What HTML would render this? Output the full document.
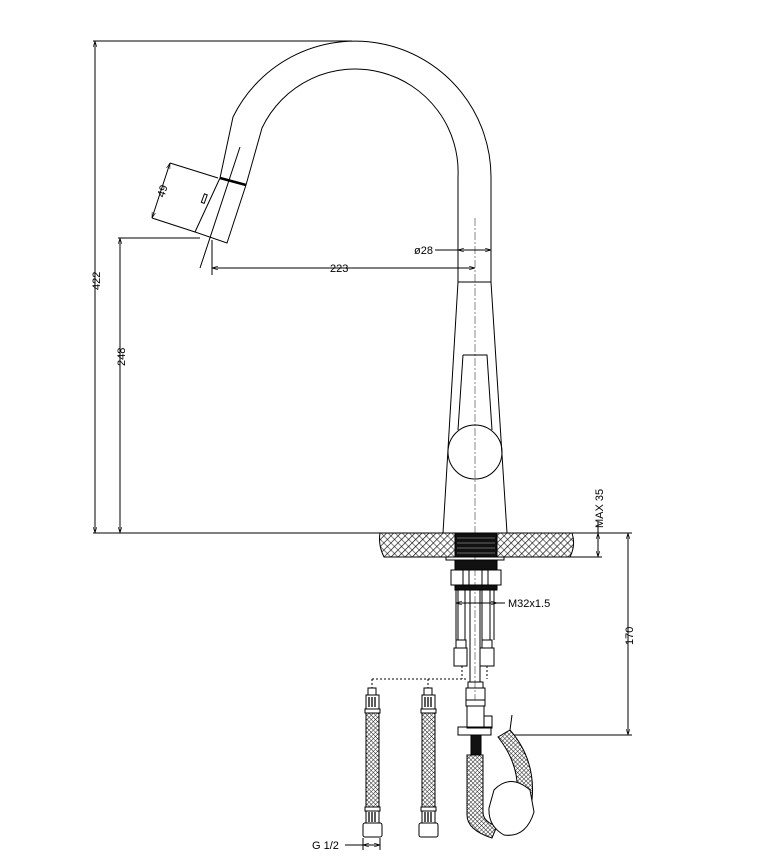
<!DOCTYPE html>
<html><head><style>html,body{margin:0;padding:0;background:#fff}svg{display:block}</style></head>
<body>
<svg width="776" height="860" viewBox="0 0 776 860" xmlns="http://www.w3.org/2000/svg" font-family="Liberation Sans, sans-serif">
<defs>
<pattern id="h" width="5" height="5" patternUnits="userSpaceOnUse" patternTransform="rotate(45)">
<rect width="5" height="5" fill="#fff"/><line x1="0" y1="0" x2="0" y2="5" stroke="#000" stroke-width="1.3"/><line x1="0" y1="2.5" x2="5" y2="2.5" stroke="#000" stroke-width="0.5"/>
</pattern>
<pattern id="br" width="3" height="3" patternUnits="userSpaceOnUse" patternTransform="rotate(45)">
<rect width="3" height="3" fill="#fff"/><line x1="0" y1="0" x2="0" y2="3" stroke="#222" stroke-width="1"/><line x1="0" y1="0" x2="3" y2="0" stroke="#222" stroke-width="1"/>
</pattern>
<marker id="a" viewBox="0 0 10 10" refX="10" refY="5" markerWidth="6" markerHeight="6" orient="auto-start-reverse"><path d="M0,2L10,5L0,8" fill="none" stroke="#000"/></marker>
</defs>
<g fill="none" stroke="#000" stroke-width="1">
<path d="M491,282 L491,177 A136,136 0 0 0 233,117 L220,178"/>
<path d="M458,282 L458,177 A103,103 0 0 0 262,128 L246,185"/>
<path d="M220,178 L246,185" stroke-width="2.5"/>
<path d="M220,178 L195,232 L227,243 L246,185"/>
<rect x="203" y="194" width="3" height="9" transform="rotate(20 204 198)"/>
<line x1="475" y1="218" x2="475" y2="700" stroke="#888" stroke-dasharray="8,2,2,2"/>
<path d="M458,282 L491,282 L507,533 L443,533 Z"/>
<path d="M463,355 L487,355 L492,430 M463,355 L458,430"/>
<circle cx="475" cy="452" r="27"/>
<line x1="93" y1="41" x2="352" y2="41"/>
<line x1="95" y1="41" x2="95" y2="533" marker-start="url(#a)" marker-end="url(#a)"/>
<line x1="118" y1="238" x2="200" y2="238"/>
<line x1="120" y1="238" x2="120" y2="533" marker-start="url(#a)" marker-end="url(#a)"/>
<line x1="93" y1="533" x2="632" y2="533"/>
<line x1="212" y1="240" x2="212" y2="275"/>
<line x1="240" y1="147" x2="200" y2="268"/>
<line x1="212" y1="268" x2="475" y2="268" marker-start="url(#a)" marker-end="url(#a)"/>
<line x1="435" y1="250" x2="458" y2="250"/>
<line x1="458" y1="250" x2="491" y2="250" marker-start="url(#a)" marker-end="url(#a)"/>
<line x1="170" y1="163" x2="218" y2="178"/>
<line x1="152" y1="218" x2="195" y2="232"/>
<line x1="170" y1="163" x2="152" y2="218" marker-start="url(#a)" marker-end="url(#a)"/>
<path d="M380,533 L455,533 L455,557 L384,557 Q378,545 380,533 Z" fill="url(#h)"/>
<path d="M497,533 L572,533 Q576,545 570,557 L497,557 Z" fill="url(#h)"/>
<rect x="455" y="533" width="42" height="24" fill="#111"/>
<g stroke="#666"><line x1="457" y1="538" x2="495" y2="538"/><line x1="457" y1="543" x2="495" y2="543"/><line x1="457" y1="548" x2="495" y2="548"/><line x1="457" y1="553" x2="495" y2="553"/></g>
<rect x="446" y="557" width="58" height="3"/>
<line x1="565" y1="557" x2="602" y2="557"/>
<line x1="598" y1="533" x2="598" y2="557" marker-start="url(#a)" marker-end="url(#a)"/>
<line x1="598" y1="522" x2="598" y2="533"/>
<line x1="628" y1="533" x2="628" y2="735" marker-start="url(#a)" marker-end="url(#a)"/>
<line x1="510" y1="735" x2="632" y2="735"/>
<rect x="455" y="560" width="42" height="10" fill="#111"/>
<rect x="451" y="570" width="50" height="15"/>
<line x1="463" y1="570" x2="463" y2="585"/><line x1="469" y1="570" x2="469" y2="585"/><line x1="482" y1="570" x2="482" y2="585"/><line x1="488" y1="570" x2="488" y2="585"/>
<rect x="455" y="585" width="42" height="5" fill="#111"/>
<path d="M456,590 V640 M458,590 V640 M465,590 V640 M470,590 V682 M480,590 V682 M482,590 V640 M490,590 V640 M494,590 V640"/>
<line x1="456" y1="603" x2="497" y2="603" marker-start="url(#a)" marker-end="url(#a)"/>
<line x1="497" y1="603" x2="505" y2="603"/>
<rect x="456" y="640" width="10" height="8"/><rect x="454" y="648" width="13" height="18"/>
<rect x="482" y="640" width="10" height="8"/><rect x="480" y="648" width="14" height="18"/>
<path d="M462,666 V679 M487,666 V679 M372,679 H468 M372,679 V688 M428,679 V688" stroke-dasharray="2,2"/>
<g id="hs">
<rect x="368" y="688" width="8" height="7"/>
<rect x="366" y="695" width="13" height="14"/>
<g stroke-width="1.3"><line x1="369" y1="697" x2="369" y2="707"/><line x1="372" y1="697" x2="372" y2="707"/><line x1="375" y1="697" x2="375" y2="707"/></g>
<rect x="365" y="709" width="15" height="4"/>
<rect x="366" y="713" width="13" height="94" fill="url(#br)"/>
<rect x="365" y="807" width="15" height="4"/>
<rect x="366" y="811" width="13" height="12"/>
<g stroke-width="1.3"><line x1="369" y1="812" x2="369" y2="822"/><line x1="372" y1="812" x2="372" y2="822"/><line x1="375" y1="812" x2="375" y2="822"/></g>
<rect x="363" y="823" width="19" height="14" rx="2"/>
</g>
<use href="#hs" transform="translate(56,0)"/>
<line x1="363" y1="845" x2="380" y2="845" marker-start="url(#a)" marker-end="url(#a)"/>
<line x1="345" y1="845" x2="363" y2="845"/>
<line x1="363" y1="838" x2="363" y2="850"/><line x1="380" y1="838" x2="380" y2="850"/>
<rect x="468" y="682" width="15" height="6"/>
<rect x="466" y="688" width="19" height="12"/>
<rect x="466" y="700" width="19" height="6"/>
<rect x="467" y="706" width="17" height="22"/>
<path d="M484,716 H492 V728 H484"/>
<rect x="458" y="727" width="33" height="8"/>
<rect x="471" y="735" width="10" height="20" fill="#111"/>
<path d="M467,755 H483 V812 Q483,822 497,826 L492,838 Q467,830 467,815 Z" fill="url(#br)"/>
<path d="M498,737 L510,730 Q536,760 532,800 L517,796 Q520,765 498,737 Z" fill="url(#br)"/>
<path d="M510,730 L512,715" />
<path d="M494,790 Q510,773 530,790 L534,812 Q526,838 504,835 Q488,826 489,808 Z" fill="#fff"/>
</g>
<g font-size="11" fill="#000">
<text x="330" y="272">223</text>
<text x="414" y="254">ø28</text>
<text x="508" y="607">M32x1.5</text>
<text x="312" y="849">G 1/2</text>
<text transform="translate(100,290) rotate(-90)">422</text>
<text transform="translate(125,366) rotate(-90)">248</text>
<text transform="translate(164,198) rotate(-72)">49</text>
<text transform="translate(603,528) rotate(-90)">MAX 35</text>
<text transform="translate(633,645) rotate(-90)">170</text>
</g>
</svg>
</body></html>
